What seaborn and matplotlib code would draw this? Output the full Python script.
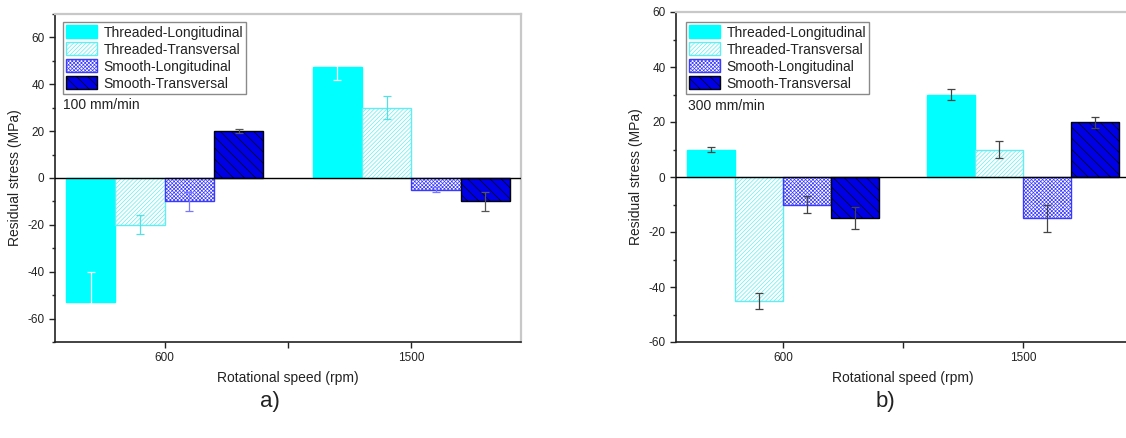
import numpy as np
import pandas as pd
import matplotlib
matplotlib.use("Agg")
import matplotlib.pyplot as plt
from matplotlib.ticker import MultipleLocator
import seaborn as sns

series = ["Threaded-Longitudinal", "Threaded-Transversal",
          "Smooth-Longitudinal", "Smooth-Transversal"]
speeds = ["600", "1500"]

# residual stress (MPa), one row per series, columns = speeds
stress_100 = [[-53, 47.5], [-20, 30], [-10, -5], [20, -10]]
err_100 = [[13, 5.5], [4, 5], [4, 1], [1, 4]]
stress_300 = [[10, 30], [-45, 10], [-10, -15], [-15, 20]]
err_300 = [[1, 2], [3, 3], [3, 5], [4, 2]]

sns.set_style("white")
plt.rcParams["font.family"] = ["Liberation Sans", "DejaVu Sans"]
plt.rcParams["axes.unicode_minus"] = False
plt.rcParams["hatch.linewidth"] = 0.5

# bar styles: facecolor, edgecolor, hatch
styles = [
    ("#00ffff", "#00ffff", ""),
    ("white", "#60eef2", "////////"),
    ("white", "#3a3aff", "xxxxxxxxx"),
    ("#0000e6", "#000000", "\\\\\\"),
]
err_colors_100 = ["#ffffff", "#55e0e6", "#7777ff", "#555555"]
err_colors_300 = ["#444444"] * 4


def long_table(stress):
    rows = []
    for name, vals in zip(series, stress):
        for sp, v in zip(speeds, vals):
            rows.append({"speed": sp, "stress": v, "series": name})
    return pd.DataFrame(rows)


def draw_panel(ax, stress, errs, ecolors, ylim, note, legend_xy, fig):
    df = long_table(stress)
    sns.barplot(data=df, x="speed", y="stress", hue="series", order=speeds,
                hue_order=series, errorbar=None, width=0.8, legend=False, ax=ax)
    bars = list(ax.containers)
    for i, cont in enumerate(bars):
        fc, ec, hatch = styles[i]
        for p in cont.patches:
            p.set_facecolor(fc)
            p.set_edgecolor(ec)
            p.set_hatch(hatch)
            p.set_linewidth(1.0)
        xs = [p.get_x() + p.get_width() / 2 for p in cont.patches]
        ys = [p.get_y() + p.get_height() for p in cont.patches]
        ax.errorbar(xs, ys, yerr=errs[i], fmt="none", ecolor=ecolors[i],
                    elinewidth=0.9, capsize=3, capthick=0.9, zorder=4)

    ax.axhline(0, color="black", lw=1.0, zorder=5)
    ax.set_ylim(*ylim)
    ax.set_xlim(-0.445, 1.445)
    ax.yaxis.set_major_locator(MultipleLocator(20))
    ax.yaxis.set_minor_locator(MultipleLocator(10))
    ax.set_xticks([0, 0.5, 1])
    ax.set_xticklabels(["600", "", "1500"])
    ax.tick_params(axis="both", which="major", direction="out", length=4.5,
                   width=1, labelsize=8.5, colors="#222222", pad=3,
                   bottom=True, left=True)
    ax.tick_params(axis="y", which="minor", direction="out", length=2.5,
                   width=1, left=True)
    for s in ["left", "bottom"]:
        ax.spines[s].set_color("#222222")
        ax.spines[s].set_linewidth(1.2)
    for s in ["top", "right"]:
        ax.spines[s].set_color("#c8c8c8")
        ax.spines[s].set_linewidth(1.6)
    ax.set_xlabel("Rotational speed (rpm)", fontsize=10, color="#222222",
                  labelpad=5)
    ax.set_ylabel("Residual stress (MPa)", fontsize=10, color="#222222",
                  labelpad=4)

    leg = ax.legend(bars, series, loc="upper left",
                    bbox_to_anchor=legend_xy, bbox_transform=fig.transFigure,
                    borderaxespad=0, fontsize=10, frameon=True, fancybox=False,
                    edgecolor="#8a8a8a", framealpha=1, labelspacing=0.2,
                    handlelength=2.2, handleheight=1.05, handletextpad=0.45,
                    borderpad=0.25)
    leg.get_frame().set_linewidth(1.0)
    for t in leg.get_texts():
        t.set_color("#222222")
    ax.text(note[0], note[1], note[2], transform=fig.transFigure,
            fontsize=10, color="#222222", va="center", ha="left")


W, H = 1126, 438
fig = plt.figure(figsize=(W / 100, H / 100), dpi=100)

ax1 = fig.add_axes([55 / W, (H - 342) / H, 466 / W, 328 / H])
ax2 = fig.add_axes([676 / W, (H - 342) / H, 454 / W, 330 / H])

draw_panel(ax1, stress_100, err_100, err_colors_100, (-70, 70),
           (63 / W, 1 - 105 / H, "100 mm/min"), (63 / W, 1 - 22 / H), fig)
draw_panel(ax2, stress_300, err_300, err_colors_300, (-60, 60),
           (688 / W, 1 - 106 / H, "300 mm/min"), (686 / W, 1 - 22 / H), fig)

fig.text(270 / W, 1 - 402 / H, "a)", fontsize=16, ha="center", va="center",
         color="#222222")
fig.text(885 / W, 1 - 402 / H, "b)", fontsize=16, ha="center", va="center",
         color="#222222")

fig.savefig("out.png", dpi=100)
